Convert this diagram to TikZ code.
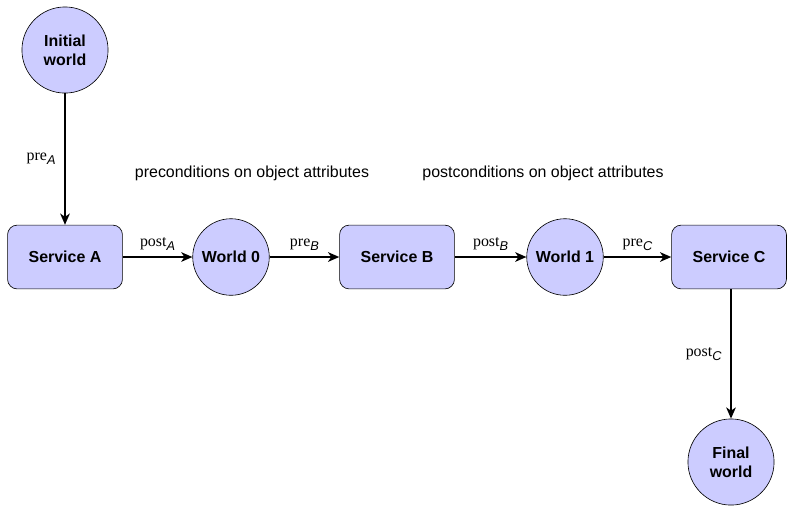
\documentclass[tikz,border=0pt]{standalone}
\usepackage{fontspec}
\setmainfont{Liberation Sans}
\newfontfamily\lblfont{Liberation Serif}
\usetikzlibrary{arrows.meta}

\tikzset{
	world/.style={circle, draw, thin, fill=blue!20, font=\bfseries, align=center,
		inner sep=0pt, minimum size=48pt},
	bigworld/.style={world, minimum size=54pt},
	service/.style={rectangle, rounded corners=6pt, draw, thin, fill=blue!20,
		font=\bfseries, minimum width=72pt, minimum height=40pt},
	flow/.style={-{Stealth[length=7pt, width=6pt, inset=2pt]}, line width=1.2pt}
}
\newcommand{\cond}[2]{{\lblfont #1}\raisebox{-0.45ex}{\footnotesize\itshape #2}}

\begin{document}
\begin{tikzpicture}[x=0.627pt, y=-0.627pt]
			\useasboundingbox (0,0) rectangle (787,506);
			\node[bigworld] (init) at (65,50) {Initial\\world};
			\node[service] (servA) at (65,257) {Service A};
			\node[world] (world0) at (231,257) {World 0};
			\node[service] (servB) at (397,257) {Service B};
			\node[world] (world1) at (565,257) {World 1};
			\node[service] (servC) at (729,257) {Service C};
			\node[bigworld] (final) at (731,462) {Final\\world};
			\node (precond) at (252,173) {preconditions on object attributes};
			\node (postcond) at (543,173) {postconditions on object attributes};
			\draw[flow] (init) -- node[left, xshift=-2pt]{\cond{pre}{A}} (servA);
			\draw[flow] (servA) -- node[above]{\cond{post}{A}} (world0);
			\draw[flow] (world0) -- node[above]{\cond{pre}{B}} (servB);
			\draw[flow] (servB) -- node[above]{\cond{post}{B}} (world1);
			\draw[flow] (world1) -- node[above]{\cond{pre}{C}} (servC);
			%\draw[flow] (servC) -- (final);
			\draw[flow] (servC.south -| final) -- node[left, xshift=-2pt]{\cond{post}{C}} (final);
\end{tikzpicture}
\end{document}
